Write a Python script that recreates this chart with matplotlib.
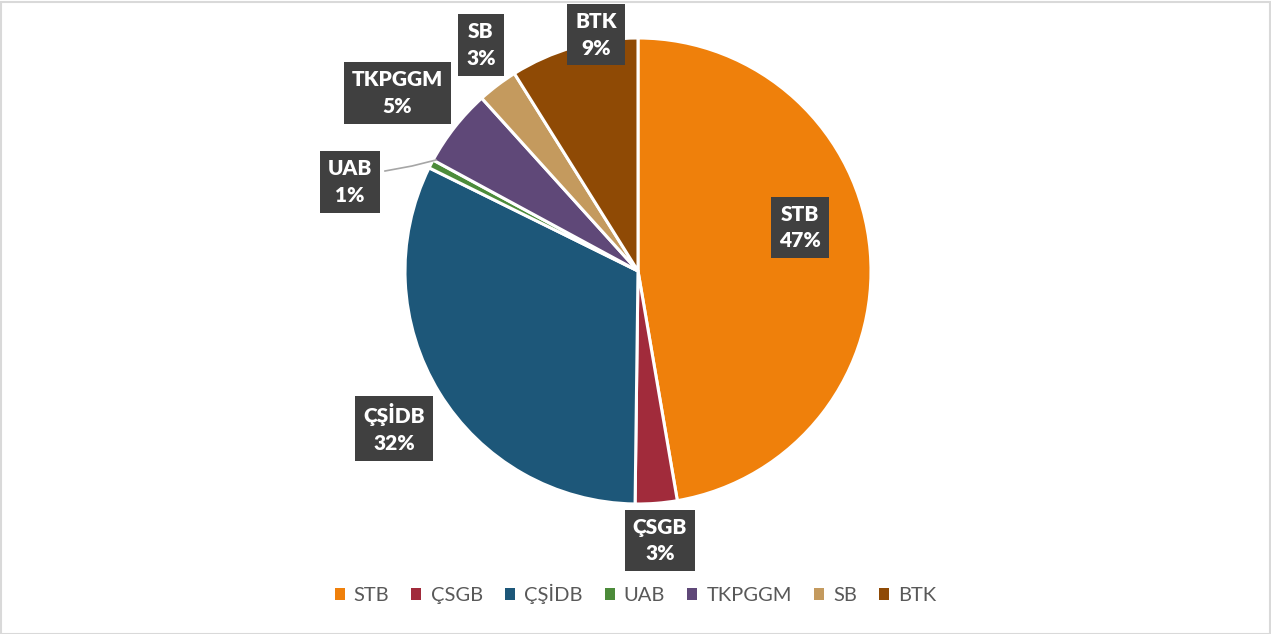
import matplotlib
matplotlib.use("Agg")
import matplotlib.pyplot as plt
from matplotlib.patches import Rectangle, Patch

plt.rcParams["font.family"] = ["Lato", "DejaVu Sans"]

# Payları (saat yönünde, tepeden başlayarak)
kurumlar = ["STB", "ÇSGB", "ÇŞİDB", "UAB", "TKPGGM", "SB", "BTK"]
paylar = [47.3, 2.9, 32.1, 0.6, 5.4, 2.8, 8.9]
renkler = ["#EF800B", "#A12B3B", "#1D5779", "#4C8B3A", "#5F4878", "#C49A5E", "#8F4A05"]

# Etiket kutularının yerleri (pasta yarıçapı = 1)
etiket_yerleri = [(0.695, 0.185), (0.094, -1.155), (-1.047, -0.674),
                  (-1.236, 0.382), (-1.034, 0.764), (-0.674, 0.970),
                  (-0.180, 1.013)]

W, H = 1271, 634
R_PX, CX, CY = 233, 638, 271

fig = plt.figure(figsize=(W / 100, H / 100), dpi=100)
ax = fig.add_axes([0, 0, 1, 1])
ax.axis("off")

ax.pie(paylar, colors=renkler, startangle=90, counterclock=False,
       radius=1, center=(0, 0), frame=False,
       wedgeprops=dict(edgecolor="white", linewidth=2.2))
ax.set_xlim(-CX / R_PX, (W - CX) / R_PX)
ax.set_ylim((CY - H) / R_PX, CY / R_PX)
ax.set_aspect("auto")

# UAB için bağlantı çizgisi
ax.plot([(385 - CX) / R_PX, (412 - CX) / R_PX, (436 - CX) / R_PX],
        [(CY - 171) / R_PX, (CY - 166) / R_PX, (CY - 160) / R_PX],
        color="#A6A6A6", lw=1.2, zorder=1)

toplam = sum(paylar)
for ad, pay, (x, y) in zip(kurumlar, paylar, etiket_yerleri):
    ax.text(x, y, f"{ad}\n{round(pay / toplam * 100)}%", ha="center", va="center",
            fontsize=15, fontweight="heavy", color="white", linespacing=1.45,
            bbox=dict(boxstyle="square,pad=0.38", fc="#404040", ec="none"),
            zorder=5)

handles = [Patch(facecolor=c, edgecolor="none") for c in renkler]
leg = fig.legend(handles, kurumlar, loc="center", bbox_to_anchor=(0.5, 1 - 594 / H),
                 ncol=7, frameon=False, fontsize=14.5, handlelength=0.5,
                 handleheight=0.5, handletextpad=0.45, columnspacing=1.1)
for t in leg.get_texts():
    t.set_color("#595959")

fig.patches.append(Rectangle((0.5 / W, 0.5 / H), 1 - 2 / W, 1 - 2 / H,
                             transform=fig.transFigure, fill=False,
                             ec="#D9D9D9", lw=1.5))

fig.savefig("out.png", dpi=100)
